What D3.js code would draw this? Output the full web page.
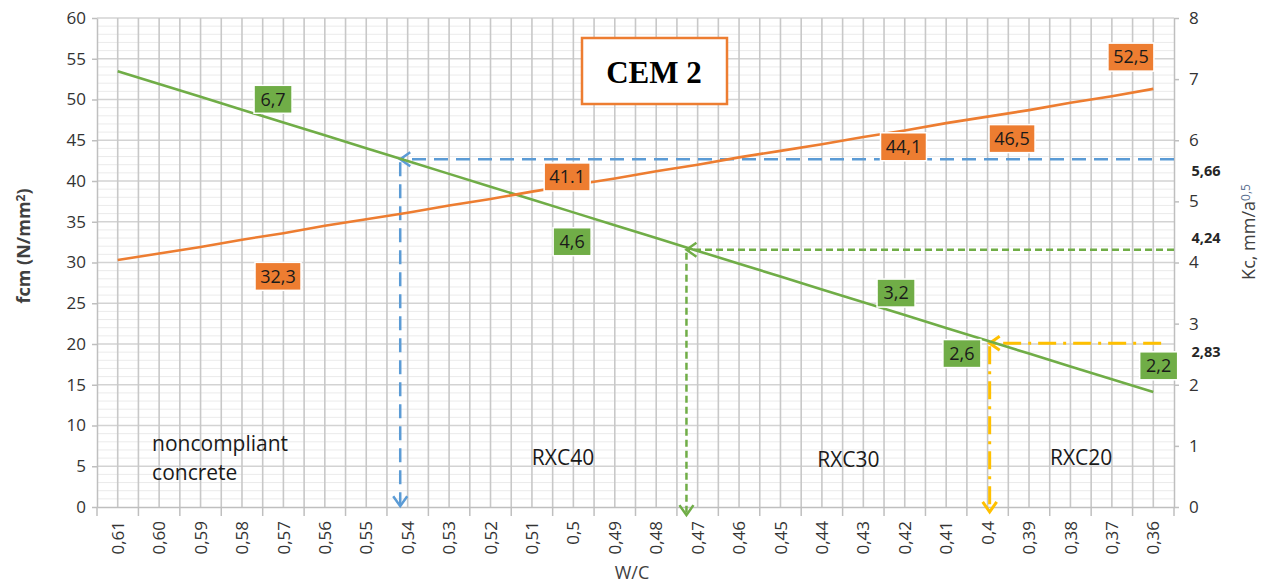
<!DOCTYPE html>
<html><head><meta charset="utf-8">
<script src="https://cdn.jsdelivr.net/npm/d3@7"></script>
<style>body{margin:0;background:#fff}svg{display:block}</style>
</head><body>
<svg id="c" width="1263" height="586"></svg>
<script>
// ---------- data ----------
const categories = ["0,61","0,60","0,59","0,58","0,57","0,56","0,55","0,54","0,53","0,52","0,51","0,5","0,49","0,48","0,47","0,46","0,45","0,44","0,43","0,42","0,41","0,4","0,39","0,38","0,37","0,36"];
const wcValues = [0.61,0.60,0.59,0.58,0.57,0.56,0.55,0.54,0.53,0.52,0.51,0.50,0.49,0.48,0.47,0.46,0.45,0.44,0.43,0.42,0.41,0.40,0.39,0.38,0.37,0.36];
// fcm, N/mm2 (left axis) - orange
const fcmValues = [30.3,31.1,31.9,32.8,33.6,34.5,35.3,36.1,37.0,37.8,38.7,39.5,40.3,41.2,42.0,42.9,43.7,44.5,45.4,46.2,47.1,47.9,48.7,49.6,50.4,51.3];
// Kc, mm/a^0.5 (right axis) - green
const kcValues = [7.13,6.92,6.71,6.50,6.29,6.08,5.87,5.66,5.45,5.24,5.03,4.82,4.61,4.40,4.19,3.98,3.77,3.56,3.35,3.14,2.93,2.72,2.51,2.30,2.09,1.88];
const leftTicks = [0,5,10,15,20,25,30,35,40,45,50,55,60];
const rightTicks = [0,1,2,3,4,5,6,7,8];
const orangeLabels = ["32,3","41.1","44,1","46,5","52,5"];
const orangeLabelWc = [0.5713,0.5015,0.4203,0.3941,0.3654];
const orangeLabelFcm = [28.3,40.5,44.2,45.2,55.2];
const greenLabels = ["6,7","4,6","3,2","2,6","2,2"];
const greenLabelWc = [0.5725,0.5003,0.4221,0.4062,0.3587];
const greenLabelKc = [6.67,4.34,3.50,2.51,2.31];
const rightMarkLabels = ["5,66","4,24","2,83"];
const rightMarkKc = [5.50,4.40,2.54];
const zoneLabels = [["noncompliant","concrete"],["RXC40"],["RXC30"],["RXC20"]];
const zoneWc = [0.6017,0.5025,0.4336,0.3774];
const zoneFcm = [6.9,5.1,4.9,5.2];
// guide arrows: w/c at the vertical, Kc of the horizontal, fcm where the arrow tip ends
const guideColors = ["#5B9BD5","#70AD47","#FFC000"];
const guideWc = [0.5418,0.4727,0.3995];
const guideKc = [5.69,4.21,2.68];
const guideTipFcm = [0.1,-1.0,-0.6];
const guideEndWc = [0.3547,0.3547,0.3581];
const guideDash = ["14,8","7,4","18,7,3,7"];

// ---------- layout ----------
const FONT = "'Open Sans', 'Noto Sans', sans-serif";
const m = {left:97,right:1174,top:18,bottom:507};
const svg = d3.select("#c");
const x = d3.scaleBand().domain(categories).range([m.left,m.right]).padding(0);
const bw = x.bandwidth();
const cx = c => x(c)+bw/2;
const xPos = d3.scaleLinear().domain([wcValues[0],wcValues[wcValues.length-1]])
  .range([cx(categories[0]),cx(categories[categories.length-1])]);
const yL = d3.scaleLinear().domain([0,60]).range([m.bottom,m.top]);
const yR = d3.scaleLinear().domain([0,8]).range([m.bottom,m.top]);

// grid
const grid = svg.append("g");
grid.selectAll("line.minor").data(d3.range(1,60).filter(v=>v%5!==0)).join("line")
  .attr("x1",m.left).attr("x2",m.right).attr("y1",d=>yL(d)).attr("y2",d=>yL(d))
  .attr("stroke","#EBEBEB").attr("stroke-width",1);
grid.selectAll("line.major").data(leftTicks.slice(1)).join("line")
  .attr("x1",m.left).attr("x2",m.right).attr("y1",d=>yL(d)).attr("y2",d=>yL(d))
  .attr("stroke","#D3D3D3").attr("stroke-width",1.3);
const vx = categories.flatMap(c=>[x(c),cx(c)]).slice(1);
grid.selectAll("line.v").data(vx).join("line")
  .attr("x1",d=>d).attr("x2",d=>d).attr("y1",m.top).attr("y2",m.bottom)
  .attr("stroke","#C8C8C8").attr("stroke-width",1.6);

// axes
const axisColor = "#BFBFBF", tickColor = "#333333";
const axL = svg.append("g").attr("transform",`translate(${m.left},0)`)
  .call(d3.axisLeft(yL).tickValues(leftTicks).tickSize(5).tickSizeOuter(0).tickPadding(6));
const axR = svg.append("g").attr("transform",`translate(${m.right},0)`)
  .call(d3.axisRight(yR).tickValues(rightTicks).tickSize(5).tickSizeOuter(0).tickPadding(10));
const axB = svg.append("g").attr("transform",`translate(0,${m.bottom})`)
  .call(d3.axisBottom(x).tickSize(0).tickSizeOuter(0));
[axL,axR,axB].forEach(a=>{
  a.select(".domain").attr("stroke",axisColor).attr("stroke-width",1.5);
  a.selectAll(".tick line").attr("stroke",axisColor).attr("stroke-width",1.5);
  a.selectAll("text").attr("font-family",FONT).attr("font-size",17).attr("fill",tickColor);
});
axB.selectAll("text").attr("transform","rotate(-90)").attr("text-anchor","end")
  .attr("x",-14).attr("y",0).attr("dy","0.36em").attr("font-size",17);
axB.selectAll("line.bt").data(categories.map(c=>x(c)).concat([m.right])).join("line")
  .attr("class","bt").attr("x1",d=>d).attr("x2",d=>d).attr("y1",0).attr("y2",9)
  .attr("stroke",axisColor).attr("stroke-width",1.5);

// guide arrows
const guides = svg.append("g").attr("fill","none");
guideColors.forEach((col,i)=>{
  const gx = xPos(guideWc[i]), gy = yR(guideKc[i]), ex = Math.min(xPos(guideEndWc[i]),m.right), ty = yL(guideTipFcm[i]);
  const w = i===2?3:2.5;
  guides.append("line").attr("x1",ex).attr("x2",gx+2).attr("y1",gy).attr("y2",gy)
    .attr("stroke",col).attr("stroke-width",w).attr("stroke-dasharray",guideDash[i]);
  guides.append("line").attr("x1",gx).attr("x2",gx).attr("y1",gy+3).attr("y2",ty-2)
    .attr("stroke",col).attr("stroke-width",w).attr("stroke-dasharray",guideDash[i]);
  guides.append("path").attr("d",`M${gx+10},${gy-7}L${gx},${gy}L${gx+10},${gy+7}`)
    .attr("stroke",col).attr("stroke-width",w);
  guides.append("path").attr("d",`M${gx-7},${ty-10}L${gx},${ty}L${gx+7},${ty-10}`)
    .attr("stroke",col).attr("stroke-width",w);
});

// series lines
const lineL = d3.line().x((d,i)=>cx(categories[i])).y(d=>yL(d));
const lineR = d3.line().x((d,i)=>cx(categories[i])).y(d=>yR(d));
svg.append("path").datum(kcValues).attr("d",lineR).attr("fill","none").attr("stroke","#70AD47").attr("stroke-width",2.6);
svg.append("path").datum(fcmValues).attr("d",lineL).attr("fill","none").attr("stroke","#ED7D31").attr("stroke-width",2.6);

// value boxes
function box(text,px,py,fill,minW){
  const g = svg.append("g").attr("transform",`translate(${px},${py})`);
  const r = g.append("rect");
  const t = g.append("text").text(text).attr("text-anchor","middle").attr("dy","0.35em")
    .attr("font-family",FONT).attr("font-size",18).attr("fill","#1a1a1a");
  const w = Math.max(minW,t.node().getComputedTextLength()+10), h = 28;
  r.attr("x",-w/2).attr("y",-h/2).attr("width",w).attr("height",h).attr("fill",fill)
    .attr("stroke","#fff").attr("stroke-width",1.5);
}
orangeLabels.forEach((t,i)=>box(t,xPos(orangeLabelWc[i]),yL(orangeLabelFcm[i]),"#ED7D31",46));
greenLabels.forEach((t,i)=>box(t,xPos(greenLabelWc[i]),yR(greenLabelKc[i]),"#70AD47",38));

// right-side marked values
rightMarkLabels.forEach((t,i)=>{
  svg.append("text").text(t).attr("x",1206).attr("y",yR(rightMarkKc[i])).attr("dy","0.35em")
    .attr("text-anchor","middle").attr("font-family",FONT).attr("font-weight","bold")
    .attr("font-size",14.5).attr("fill","#262626");
});

// zone labels
zoneLabels.forEach((lines,i)=>{
  const multi = lines.length>1;
  const t = svg.append("text").attr("font-family",FONT).attr("font-size",21).attr("fill","#1a1a1a")
    .attr("text-anchor",multi?"start":"middle");
  lines.forEach((l,j)=>t.append("tspan").attr("x",xPos(zoneWc[i]))
    .attr("y",yL(zoneFcm[i])+j*29).text(l));
});

// title box
svg.append("rect").attr("x",582).attr("y",38).attr("width",145).attr("height",66)
  .attr("fill","#fff").attr("stroke","#ED7D31").attr("stroke-width",2.5);
svg.append("text").text("CEM 2").attr("x",654).attr("y",83).attr("text-anchor","middle")
  .attr("font-family","'Liberation Serif','DejaVu Serif',serif").attr("font-weight","bold")
  .attr("font-size",31).attr("fill","#000");

// axis titles
const lt = svg.append("text").attr("transform","translate(30,246) rotate(-90)").attr("text-anchor","middle")
  .attr("font-family",FONT).attr("font-weight","bold").attr("font-size",18).attr("fill","#404040");
lt.append("tspan").text("fcm (N/mm");
lt.append("tspan").text("2").attr("font-size",12).attr("baseline-shift","45%");
lt.append("tspan").text(")");
const rt = svg.append("text").attr("transform","translate(1255,232) rotate(-90)").attr("text-anchor","middle")
  .attr("font-family",FONT).attr("font-size",18).attr("fill","#404040");
rt.append("tspan").text("Kc, mm/a");
rt.append("tspan").text("0,5").attr("font-size",12).attr("baseline-shift","45%").attr("fill","#5a6f8f");
svg.append("text").text("W/C").attr("x",632).attr("y",579).attr("text-anchor","middle")
  .attr("font-family",FONT).attr("font-size",18).attr("fill","#404040");
</script>
</body></html>
